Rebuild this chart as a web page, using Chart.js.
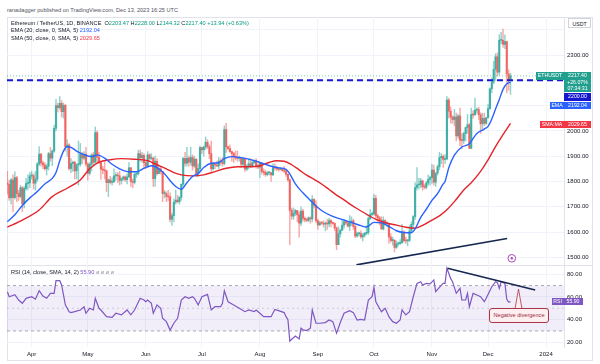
<!DOCTYPE html>
<html>
<head>
<meta charset="utf-8">
<title>ETHUSDT 1D</title>
<script src="https://cdn.jsdelivr.net/npm/chart.js@4.4.1/dist/chart.umd.min.js"></script>
<style>
  body { margin: 0; width: 600px; height: 364px; background: #fff; position: relative; overflow: hidden;
         font-family: "Liberation Sans", Arial, sans-serif; color: #131722; }
  .abs { position: absolute; white-space: nowrap; }
  .frame { position: absolute; left: 7px; top: 17px; width: 586px; height: 344px; border: 1px solid #e0e3eb; box-sizing: border-box; }
  .sep { position: absolute; left: 7px; top: 265px; width: 586px; height: 1px; background: #e0e3eb; }
  .tag { position: absolute; color: #fff; font-size: 5.2px; text-align: center; white-space: nowrap; }
  #mainWrap { position: absolute; left: 7px; top: 17px; width: 586px; height: 248px; }
  #rsiWrap { position: absolute; left: 7px; top: 265px; width: 586px; height: 96px; }
  .teal { color: #089981; }
</style>
</head>
<body>
<div class="frame"></div>
<div class="sep"></div>
<div id="mainWrap"><canvas id="mainChart" width="586" height="248"></canvas></div>
<div id="rsiWrap"><canvas id="rsiChart" width="586" height="96"></canvas></div>

<div class="abs" style="left:7px;top:7px;font-size:5.6px;color:#50535e;">ranadagger published on TradingView.com, Dec 13, 2023 16:25 UTC</div>
<div class="abs" style="left:11px;top:20px;font-size:5.6px;line-height:7.4px;">
  <div>Ethereum / TetherUS, 1D, BINANCE&nbsp; O<span class="teal">2203.47</span> H<span class="teal">2228.00</span> L<span class="teal">2144.32</span> C<span class="teal">2217.40</span> <span class="teal">+13.94 (+0.63%)</span></div>
  <div>EMA (20, close, 0, SMA, 5) <span style="color:#2962ff">2192.04</span></div>
  <div>SMA (50, close, 0, SMA, 5) <span style="color:#f23645">2029.65</span></div>
</div>
<div class="abs" style="left:11px;top:269px;font-size:5.6px;">RSI (14, close, SMA, 14, 2) <span style="color:#7e57c2">55.90</span> <span style="color:#9598a1">ø ø ø ø</span></div>

<!-- price scale tags -->
<div class="tag" style="left:568px;top:18px;width:23px;height:10px;line-height:10px;border:1px solid #d1d4dc;box-sizing:border-box;background:#fff;color:#131722;">USDT</div>
<div class="tag" style="left:536px;top:72px;width:28px;height:7.5px;line-height:7.5px;background:#22a08f;">ETHUSDT</div>
<div class="tag" style="left:564px;top:72px;width:27px;height:20px;line-height:6.5px;background:#22a08f;">2217.40<br>+26.07%<br>07:34:31</div>
<div class="tag" style="left:564px;top:93px;width:27px;height:7.5px;line-height:7.5px;background:#1717d0;">2200.00</div>
<div class="tag" style="left:550px;top:101.5px;width:14px;height:7px;line-height:7px;background:#2962ff;">EMA</div>
<div class="tag" style="left:564px;top:101.5px;width:27px;height:7px;line-height:7px;background:#2962ff;">2192.04</div>
<div class="tag" style="left:540px;top:120.5px;width:24px;height:7px;line-height:7px;background:#f23645;">SMA:MA</div>
<div class="tag" style="left:564px;top:120.5px;width:27px;height:7px;line-height:7px;background:#f23645;">2029.65</div>
<div class="tag" style="left:552px;top:298px;width:11px;height:6.5px;line-height:6.5px;background:#7e57c2;">RSI</div>
<div class="tag" style="left:563px;top:298px;width:20px;height:6.5px;line-height:6.5px;background:#7e57c2;">55.90</div>

<!-- callout -->
<svg class="abs" style="left:0;top:0;" width="600" height="364">
  <polygon points="515,309 518.5,289 522,309" fill="#fdeef0" stroke="#a8354a" stroke-width="0.8"/>
</svg>
<div class="abs" style="left:489px;top:308px;width:60px;height:15px;line-height:13px;border:1px solid #a8354a;box-sizing:border-box;border-radius:3px;background:#fdeef0;color:#a1263c;font-size:5.6px;text-align:center;">Negative divergence</div>

<script>
// ETH/USDT daily candles, Mar 19 -> Dec 13 2023 (day 0 = Apr 1)
const firstDay = -13;
const firstOpen = 1793;

const closes = [
  // Mar 19-31
  1788, 1735, 1806, 1736, 1815, 1752, 1740, 1775, 1712, 1772, 1792, 1794, 1822,
  // Apr
  1823, 1793, 1809, 1869, 1908, 1873, 1865, 1850, 1860, 1910, 1892, 1920, 2010, 2100, 2092,
  2109, 2076, 2101, 1937, 1944, 1851, 1871, 1876, 1842, 1866, 1868, 1907, 1892, 1908, 1869,
  // May
  1832, 1868, 1905, 1876, 1993, 1896, 1874, 1848, 1845, 1842, 1795, 1806, 1796, 1799, 1822, 1824,
  1822, 1804, 1810, 1818, 1807, 1818, 1854, 1800, 1796, 1828, 1831, 1910, 1894, 1903, 1874,
  // Jun
  1862, 1905, 1891, 1892, 1811, 1880, 1831, 1850, 1839, 1752, 1752, 1741, 1739, 1650, 1665,
  1718, 1726, 1720, 1737, 1789, 1891, 1872, 1892, 1876, 1895, 1861, 1888, 1830, 1851, 1934,
  // Jul
  1925, 1936, 1955, 1937, 1910, 1850, 1870, 1865, 1861, 1880, 1878, 1871, 2005, 1937, 1930, 1918,
  1910, 1898, 1893, 1891, 1892, 1868, 1890, 1849, 1859, 1870, 1860, 1875, 1882, 1860, 1856,
  // Aug
  1872, 1839, 1836, 1827, 1834, 1835, 1826, 1855, 1853, 1850, 1847, 1850, 1843, 1841, 1828, 1806,
  1686, 1663, 1674, 1685, 1668, 1635, 1683, 1654, 1649, 1646, 1656, 1652, 1729, 1706, 1645,
  // Sep
  1628, 1636, 1635, 1631, 1633, 1632, 1645, 1636, 1634, 1616, 1550, 1593, 1607, 1627, 1641,
  1636, 1623, 1638, 1644, 1622, 1584, 1593, 1594, 1581, 1587, 1595, 1598, 1653, 1670, 1671,
  // Oct
  1733, 1664, 1656, 1647, 1612, 1646, 1633, 1633, 1580, 1566, 1567, 1539, 1553, 1555, 1558, 1600,
  1566, 1565, 1567, 1604, 1630, 1661, 1776, 1786, 1788, 1802, 1779, 1777, 1794, 1808, 1815,
  // Nov
  1845, 1797, 1833, 1858, 1894, 1899, 1887, 1889, 2122, 2078, 2055, 2045, 2055, 1980, 2059,
  1963, 1962, 1989, 2013, 2024, 1931, 2065, 2063, 2082, 2084, 2064, 2028, 2049, 2030, 2052,
  // Dec 1-13
  2088, 2166, 2193, 2243, 2293, 2232, 2358, 2358, 2342, 2353, 2225, 2203, 2217.4
];

const highs = [
  1840, 1805, 1812, 1826, 1838, 1820, 1765, 1785, 1780, 1780, 1812, 1826, 1835,
  1840, 1830, 1840, 1875, 1938, 1911, 1880, 1875, 1869, 1915, 1935, 1925, 2023, 2125, 2110,
  2136, 2120, 2110, 2105, 1965, 1950, 1890, 1880, 1880, 1870, 1960, 1950, 1915, 1918, 1935,
  1875, 1875, 1910, 1915, 2015, 2000, 1915, 1880, 1860, 1878, 1845, 1810, 1820, 1815, 1850, 1835,
  1835, 1840, 1815, 1822, 1822, 1830, 1875, 1855, 1809, 1835, 1835, 1923, 1925, 1915, 1910,
  1880, 1918, 1910, 1910, 1895, 1900, 1890, 1860, 1860, 1840, 1765, 1760, 1765, 1755, 1675,
  1730, 1765, 1745, 1740, 1790, 1895, 1915, 1935, 1900, 1935, 1905, 1900, 1890, 1870, 1940,
  1935, 1940, 1976, 1965, 1945, 1960, 1875, 1870, 1880, 1895, 1890, 1895, 2020, 2030, 1940, 1945,
  1920, 1915, 1920, 1920, 1900, 1895, 1895, 1890, 1867, 1890, 1890, 1885, 1885, 1890, 1870,
  1875, 1875, 1850, 1845, 1840, 1840, 1835, 1870, 1870, 1860, 1852, 1855, 1852, 1860, 1845, 1830,
  1810, 1695, 1695, 1690, 1685, 1680, 1700, 1690, 1660, 1655, 1660, 1660, 1744, 1731, 1723,
  1651, 1643, 1641, 1645, 1640, 1650, 1655, 1650, 1640, 1636, 1620, 1620, 1612, 1650, 1650,
  1645, 1640, 1665, 1660, 1650, 1625, 1600, 1600, 1605, 1595, 1598, 1625, 1660, 1690, 1680,
  1750, 1745, 1670, 1662, 1660, 1660, 1648, 1640, 1635, 1594, 1580, 1570, 1565, 1560, 1570, 1630,
  1605, 1580, 1570, 1625, 1640, 1665, 1795, 1855, 1812, 1812, 1805, 1790, 1800, 1825, 1820,
  1868, 1865, 1835, 1865, 1915, 1910, 1905, 1905, 2136, 2130, 2095, 2060, 2085, 2070, 2065,
  2090, 1990, 1995, 2015, 2065, 2030, 2090, 2080, 2130, 2090, 2093, 2072, 2070, 2070, 2054,
  2105, 2170, 2210, 2275, 2305, 2308, 2380, 2390, 2403, 2380, 2355, 2242, 2228
];

const lows = [
  1750, 1725, 1710, 1680, 1730, 1720, 1725, 1735, 1680, 1695, 1765, 1766, 1775,
  1810, 1770, 1765, 1800, 1862, 1860, 1850, 1845, 1825, 1845, 1880, 1862, 1915, 2000, 2075,
  2085, 2055, 2050, 1920, 1900, 1845, 1835, 1840, 1810, 1810, 1785, 1860, 1870, 1885, 1860,
  1805, 1825, 1842, 1865, 1872, 1870, 1870, 1808, 1830, 1810, 1760, 1740, 1790, 1785, 1795, 1805,
  1795, 1786, 1790, 1804, 1800, 1790, 1815, 1780, 1775, 1790, 1815, 1825, 1880, 1875, 1850,
  1850, 1855, 1880, 1885, 1780, 1780, 1825, 1830, 1830, 1720, 1735, 1720, 1725, 1640, 1626,
  1640, 1710, 1715, 1710, 1725, 1780, 1860, 1860, 1860, 1865, 1845, 1855, 1820, 1820, 1840,
  1910, 1900, 1927, 1930, 1890, 1840, 1845, 1850, 1858, 1850, 1865, 1860, 1865, 1915, 1925, 1915,
  1880, 1875, 1885, 1880, 1880, 1855, 1860, 1840, 1843, 1850, 1855, 1855, 1870, 1852, 1850,
  1815, 1830, 1825, 1820, 1822, 1826, 1800, 1823, 1845, 1843, 1840, 1846, 1840, 1835, 1820, 1800,
  1550, 1650, 1650, 1665, 1640, 1580, 1625, 1643, 1640, 1640, 1641, 1635, 1640, 1695, 1637,
  1610, 1625, 1630, 1620, 1605, 1610, 1620, 1620, 1630, 1605, 1530, 1550, 1580, 1605, 1615,
  1630, 1620, 1605, 1625, 1610, 1578, 1580, 1585, 1575, 1565, 1580, 1590, 1590, 1650, 1665,
  1668, 1655, 1640, 1628, 1610, 1608, 1628, 1620, 1555, 1560, 1548, 1521, 1535, 1545, 1550, 1555,
  1560, 1555, 1545, 1562, 1598, 1615, 1650, 1765, 1770, 1775, 1765, 1770, 1770, 1785, 1785,
  1792, 1785, 1780, 1825, 1845, 1870, 1855, 1870, 1885, 2050, 2030, 2030, 2020, 1960, 1970,
  1940, 1930, 1950, 1960, 1990, 1930, 1930, 2050, 2062, 2070, 2045, 1990, 2005, 2020, 2025,
  2050, 2085, 2150, 2186, 2200, 2217, 2220, 2345, 2330, 2325, 2150, 2160, 2144.32
];

// EMA 20 (blue)
const emaDays = [-13, -9, -5, -1, 3, 7, 11, 13, 15, 17, 19, 21, 24, 28, 32, 35, 39, 43, 47, 52, 56, 60,
  64, 68, 72, 74, 77, 80, 83, 86, 89, 92, 96, 100, 103, 107, 111, 116, 121, 126, 131, 136, 138, 141,
  145, 149, 152, 156, 160, 164, 168, 172, 176, 179, 183, 187, 191, 195, 199, 203, 205, 208, 211, 214,
  217, 220, 221, 223, 226, 230, 234, 238, 242, 244, 246, 248, 250, 252, 254, 256];
const emaValues = [1641, 1668, 1705, 1735, 1760, 1790, 1812, 1835, 1882, 1920, 1937, 1935, 1920, 1906,
  1898, 1905, 1892, 1868, 1850, 1838, 1838, 1852, 1862, 1850, 1822, 1803, 1780, 1769, 1795, 1820, 1831,
  1855, 1872, 1874, 1890, 1898, 1895, 1888, 1878, 1865, 1855, 1848, 1830, 1790, 1755, 1725, 1703, 1680,
  1665, 1654, 1645, 1635, 1625, 1620, 1638, 1636, 1622, 1605, 1598, 1597, 1612, 1658, 1690, 1725, 1752,
  1790, 1800, 1854, 1904, 1936, 1949, 1990, 2007, 2018, 2047, 2086, 2124, 2164, 2186, 2192];

// SMA 50 (red)
const smaDays = [-13, -5, 4, 11, 19, 26, 31, 36, 42, 48, 55, 62, 67, 72, 76, 80, 86, 92, 98, 104, 110,
  116, 122, 127, 131, 135, 139, 143, 147, 151, 155, 159, 163, 167, 171, 175, 180, 185, 190, 195, 200,
  205, 209, 214, 218, 222, 226, 231, 235, 240, 244, 248, 252, 256];
const smaValues = [1619, 1647, 1687, 1740, 1773, 1806, 1850, 1876, 1886, 1890, 1888, 1882, 1866, 1850,
  1835, 1826, 1822, 1826, 1839, 1852, 1858, 1858, 1862, 1875, 1882, 1880, 1866, 1846, 1825, 1808, 1790,
  1768, 1746, 1727, 1706, 1688, 1666, 1647, 1635, 1627, 1619, 1615, 1626, 1647, 1664, 1688, 1720, 1766,
  1795, 1840, 1885, 1938, 1985, 2030];

// RSI 14
const rsiDays = [-13, -12, -9, -7, -5, -3, 0, 2, 4, 6, 8, 10, 12, 13, 15, 16, 18, 20, 21, 23, 26, 28,
  29, 31, 33, 34, 36, 37, 40, 43, 45, 48, 51, 53, 55, 58, 60, 61, 62, 64, 65, 67, 69, 70, 72, 74, 76,
  78, 80, 82, 84, 86, 87, 89, 91, 94, 96, 98, 101, 102, 103, 105, 108, 111, 114, 116, 119, 120, 122,
  124, 127, 128, 130, 132, 135, 136, 137, 138, 139, 141, 143, 144, 145, 147, 149, 150, 152, 154, 157,
  159, 161, 163, 165, 167, 170, 172, 174, 176, 178, 180, 182, 183, 184, 187, 189, 191, 193, 195, 197,
  198, 200, 202, 204, 206, 208, 209, 211, 213, 215, 216, 218, 220, 221, 222, 224, 225, 227, 229, 230,
  232, 233, 234, 236, 238, 240, 242, 243, 246, 248, 249, 250, 251, 253, 254, 255, 256];
const rsiValues = [64.6, 60.2, 62, 57.3, 54.4, 58.8, 60.2, 58, 65.5, 60.8, 58.8, 63.2, 63.2, 74.4, 74.4,
  70.6, 53, 47, 46.2, 47, 48.5, 51.4, 45.6, 50, 48.5, 58.8, 50, 48.5, 42.6, 42, 45.6, 44.2, 48.5, 44.2,
  48.5, 58.8, 57.3, 55.8, 57.3, 54.4, 45.6, 53, 50, 41.2, 38.2, 30.8, 36.8, 41.2, 57.3, 60.2, 58.8, 60.2,
  58.8, 53, 60.2, 62.3, 48.5, 51.4, 51.4, 54.4, 65.5, 55.8, 53, 50, 47, 48.5, 47, 48.5, 45.6, 42.6, 42.6,
  42.6, 49, 47.9, 46.2, 42.6, 40, 21, 22.7, 25.6, 23, 32.4, 31, 30.4, 32.4, 48.5, 36.8, 36.8, 37.4, 39.7,
  38.2, 28, 37.4, 45.6, 47.9, 46.2, 39.7, 40.3, 39.7, 57.3, 60.2, 68.5, 55.8, 47, 50, 42.6, 38.2, 36.8,
  39.7, 48.5, 44.2, 47, 60.2, 72, 73.5, 70.6, 72, 71.5, 75, 64.7, 68.5, 72, 72, 85.3, 76.4, 73.5, 63.2,
  67.6, 57.3, 57.3, 63.2, 51.4, 63.2, 61.7, 60.2, 55.8, 58.8, 69, 73.5, 72.6, 67.6, 73.5, 72, 58, 55.5, 55.9];

// drawn lines
const supportDays = [173.6, 254.2];
const supportPrices = [1470, 1574];
const rsiTrendDays = [222.3, 269.2];
const rsiTrendValues = [85.3, 66.1];
const levelPrice = 2200;
const lastPrice = 2217.4;
const iconDay = 256.7;
const iconPrice = 1496;

// axes
const monthTicks = [0, 30, 61, 91, 122, 153, 183, 214, 244, 275];
const monthLabels = ['Apr', 'May', 'Jun', 'Jul', 'Aug', 'Sep', 'Oct', 'Nov', 'Dec', '2024'];
const priceTicks = [1500, 1600, 1700, 1800, 1900, 2000, 2100, 2200, 2300, 2400];
const hiddenPriceTicks = [2100, 2200, 2400];
const rsiTicks = [20, 40, 60, 80];
const xMin = -13.2, xMax = 284.6;
const priceMin = 1469.5, priceMax = 2450.3;
const rsiMin = 15.85, rsiMax = 88.2;

const FONT = '"Liberation Sans", Arial, sans-serif';
const GRID = '#f0f3fa';

const days = closes.map((c, i) => firstDay + i);
const opens = closes.map((c, i) => i === 0 ? firstOpen : closes[i - 1]);
const isUp = closes.map((c, i) => c >= opens[i]);
const bodyColors = isUp.map(u => u ? 'rgba(38,166,154,0.8)' : 'rgba(239,83,80,0.8)');
const wickColors = isUp.map(u => u ? 'rgba(38,166,154,0.5)' : 'rgba(239,83,80,0.5)');

const toPoints = (xs, ys) => xs.map((x, i) => ({ x: x, y: ys[i] }));
const monthAxisTicks = s => { s.ticks = monthTicks.map(v => ({ value: v })); };
// keep the plot area flush with the canvas edges, the way the panes sit in the picture
const noPadding = s => { s.paddingTop = 0; s.paddingBottom = 0; s.paddingLeft = 0; s.paddingRight = 0; };

new Chart(document.getElementById('mainChart'), {
    type: 'bar',
    data: {
        datasets: [
            { type: 'scatter', data: [{ x: iconDay, y: iconPrice }], pointRadius: 1.2, backgroundColor: '#ab47bc', borderWidth: 0, order: 0 },
            { type: 'scatter', data: [{ x: iconDay, y: iconPrice }], pointRadius: 3.8, backgroundColor: '#fff', borderColor: '#ab47bc', borderWidth: 1, order: 0 },
            { type: 'line', data: toPoints(supportDays, supportPrices), borderColor: '#16264f', borderWidth: 1.6, pointRadius: 0, order: 1, clip: false },
            { type: 'line', data: [{ x: xMin, y: levelPrice }, { x: xMax, y: levelPrice }], borderColor: '#1717d0', borderWidth: 2, borderDash: [6, 4], pointRadius: 0, order: 2 },
            { type: 'line', data: toPoints(emaDays, emaValues), borderColor: '#2962ff', borderWidth: 1.4, pointRadius: 0, cubicInterpolationMode: 'monotone', order: 3 },
            { type: 'line', data: toPoints(smaDays, smaValues), borderColor: '#e3242b', borderWidth: 1.4, pointRadius: 0, cubicInterpolationMode: 'monotone', order: 4 },
            { type: 'bar', data: days.map((d, i) => ({ x: d, y: [opens[i], closes[i]] })), backgroundColor: bodyColors, borderWidth: 0, barThickness: 1.5, minBarLength: 1, grouped: false, order: 5 },
            { type: 'bar', data: days.map((d, i) => ({ x: d, y: [lows[i], highs[i]] })), backgroundColor: wickColors, borderWidth: 0, barThickness: 0.8, grouped: false, order: 6 },
            { type: 'line', data: [{ x: xMin, y: lastPrice }, { x: xMax, y: lastPrice }], borderColor: 'rgba(38,166,154,0.6)', borderWidth: 1, borderDash: [1, 2], pointRadius: 0, order: 7 }
        ]
    },
    options: {
        responsive: false,
        animation: false,
        events: [],
        layout: { padding: 0, autoPadding: false },
        plugins: { legend: { display: false }, tooltip: { enabled: false } },
        scales: {
            x: {
                type: 'linear', min: xMin, max: xMax, offset: false,
                afterBuildTicks: monthAxisTicks,
                ticks: { display: false },
                grid: { color: GRID, drawTicks: false, offset: false },
                border: { display: false },
                afterFit: s => { s.height = 0; noPadding(s); }
            },
            y: {
                position: 'right', min: priceMin, max: priceMax,
                afterBuildTicks: s => { s.ticks = priceTicks.map(v => ({ value: v })); },
                ticks: {
                    font: { size: 6, family: FONT }, color: '#131722', padding: 3,
                    callback: v => hiddenPriceTicks.includes(v) ? '' : v.toFixed(2)
                },
                grid: { color: GRID, drawTicks: false },
                border: { color: '#e0e3eb' },
                afterFit: s => { s.width = 29; noPadding(s); }
            }
        }
    }
});

new Chart(document.getElementById('rsiChart'), {
    type: 'line',
    data: {
        datasets: [
            { data: toPoints(rsiTrendDays, rsiTrendValues), borderColor: '#16264f', borderWidth: 1.6, pointRadius: 0, order: 0 },
            { data: toPoints(rsiDays, rsiValues), borderColor: '#7e57c2', borderWidth: 1.2, pointRadius: 0, order: 1 },
            { data: [{ x: xMin, y: 70 }, { x: xMax, y: 70 }], borderColor: '#9598a1', borderWidth: 0.8, borderDash: [3, 3], pointRadius: 0,
              fill: { value: 30 }, backgroundColor: 'rgba(126,87,194,0.1)', order: 2 },
            { data: [{ x: xMin, y: 50 }, { x: xMax, y: 50 }], borderColor: 'rgba(149,152,161,0.5)', borderWidth: 0.8, borderDash: [2, 3], pointRadius: 0, order: 3 },
            { data: [{ x: xMin, y: 30 }, { x: xMax, y: 30 }], borderColor: '#9598a1', borderWidth: 0.8, borderDash: [3, 3], pointRadius: 0, order: 4 }
        ]
    },
    options: {
        responsive: false,
        animation: false,
        events: [],
        layout: { padding: 0, autoPadding: false },
        plugins: { legend: { display: false }, tooltip: { enabled: false } },
        scales: {
            x: {
                type: 'linear', min: xMin, max: xMax,
                afterBuildTicks: monthAxisTicks,
                ticks: {
                    font: { size: 6, family: FONT }, color: '#131722', padding: 4, maxRotation: 0, autoSkip: false,
                    callback: v => monthLabels[monthTicks.indexOf(v)]
                },
                grid: { color: GRID, drawTicks: false },
                border: { display: false },
                afterFit: s => { s.height = 14; noPadding(s); }
            },
            y: {
                position: 'right', min: rsiMin, max: rsiMax,
                afterBuildTicks: s => { s.ticks = rsiTicks.map(v => ({ value: v })); },
                ticks: { font: { size: 6, family: FONT }, color: '#131722', padding: 3, callback: v => v.toFixed(2) },
                grid: { color: GRID, drawTicks: false },
                border: { color: '#e0e3eb' },
                afterFit: s => { s.width = 29; noPadding(s); }
            }
        }
    }
});
</script>
</body>
</html>
